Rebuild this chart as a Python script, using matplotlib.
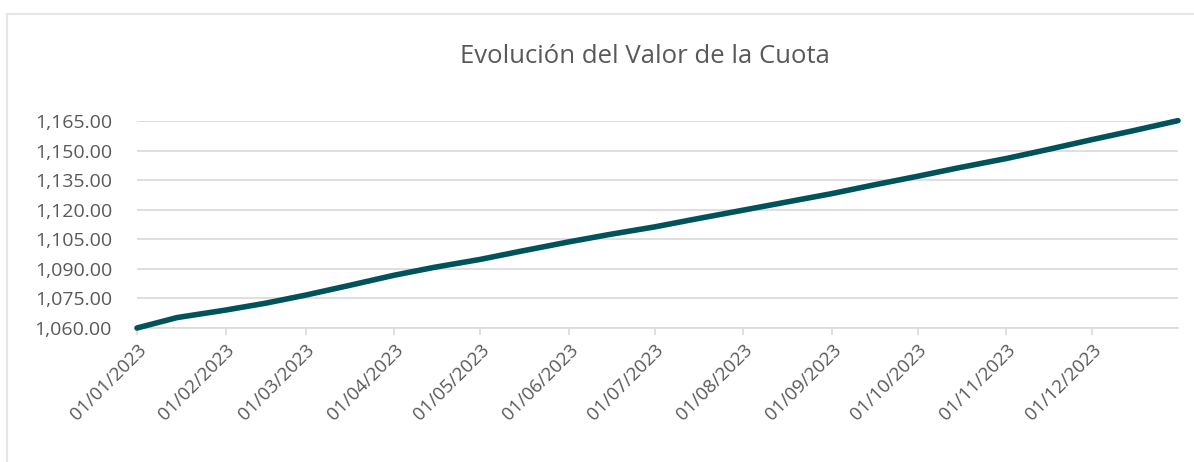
import matplotlib
matplotlib.use("Agg")
import matplotlib.pyplot as plt
import matplotlib.dates as mdates
from matplotlib.patches import Rectangle
from matplotlib.ticker import FuncFormatter
import numpy as np

# valores (inicio y mitad de cada mes + cierre de año)
fechas = ["2023-01-01", "2023-01-15", "2023-02-01", "2023-02-15", "2023-03-01",
          "2023-03-15", "2023-04-01", "2023-04-15", "2023-05-01", "2023-05-15",
          "2023-06-01", "2023-06-15", "2023-07-01", "2023-07-15", "2023-08-01",
          "2023-08-15", "2023-09-01", "2023-09-15", "2023-10-01", "2023-10-15",
          "2023-11-01", "2023-11-15", "2023-12-01", "2023-12-15", "2023-12-31"]
valor_cuota = [1060.0, 1065.3, 1069.1, 1072.6, 1076.7,
               1081.2, 1086.8, 1090.8, 1094.8, 1098.9,
               1103.7, 1107.4, 1111.3, 1115.2, 1119.8,
               1123.6, 1128.2, 1132.4, 1137.0, 1141.2,
               1146.0, 1150.4, 1155.6, 1160.0, 1165.2]

y_ticks = [1060, 1075, 1090, 1105, 1120, 1135, 1150, 1165]

plt.rcParams['font.family'] = ['Open Sans', 'DejaVu Sans']

fig = plt.figure(figsize=(11.94, 4.62), dpi=100)
ax = fig.add_axes([0.1147, 0.29, 0.8719, 0.448])

x = np.array(fechas, dtype="datetime64[D]")
ax.plot(x, valor_cuota, color="#00535b", linewidth=4, solid_capstyle="round",
        zorder=3, clip_on=False)

ax.set_ylim(1060, 1165)
ax.set_yticks(y_ticks)
ax.yaxis.set_major_formatter(FuncFormatter(lambda v, p: f"{v:,.2f}"))
ax.set_xlim(np.datetime64("2023-01-01"), np.datetime64("2023-12-31"))
ax.xaxis.set_major_locator(mdates.MonthLocator())
ax.xaxis.set_major_formatter(mdates.DateFormatter("%d/%m/%Y"))

ax.grid(axis="y", color="#d9d9d9", linewidth=1.2)
ax.set_axisbelow(True)
for s in ["top", "right", "left"]:
    ax.spines[s].set_visible(False)
ax.spines["bottom"].set_color("#d9d9d9")
ax.spines["bottom"].set_linewidth(1.2)
ax.tick_params(axis="y", length=0, labelsize=14, labelcolor="#595959", pad=18)
ax.tick_params(axis="x", length=5, width=1.2, color="#d9d9d9", labelsize=13.5,
               labelcolor="#595959", pad=4)
plt.setp(ax.get_xticklabels(), rotation=45, ha="right", rotation_mode="anchor")

fig.text(0.54, 0.877, "Evolución del Valor de la Cuota", ha="center", va="center",
         fontsize=18.5, color="#595959")

fig.patches.append(Rectangle((7 / 1194, -0.05), 1.2, 0.05 + (1 - 14 / 462),
                             transform=fig.transFigure, fill=False,
                             edgecolor="#e6e6e6", linewidth=1.5))

fig.savefig("out.png", dpi=100)
